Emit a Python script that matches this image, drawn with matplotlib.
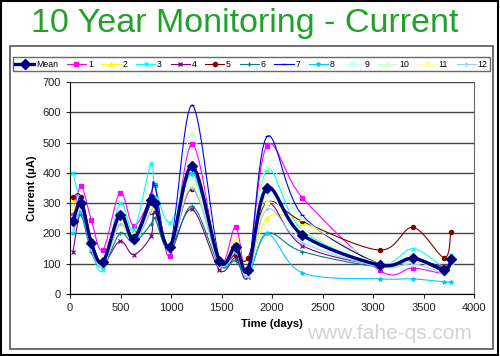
import numpy as np
import matplotlib
matplotlib.use("Agg")
import matplotlib.pyplot as plt
from matplotlib.patches import Rectangle

# tiempos de medida (días)
days = [30, 110, 210, 325, 495, 630, 800, 840, 990, 1210, 1480, 1640, 1760,
        1950, 2300, 3065, 3395, 3705, 3770]

# corriente (uA) por serie
mean = [240, 300, 170, 105, 262, 180, 310, 300, 155, 422, 110, 155, 78, 350, 195, 96, 118, 80, 115]
s1 = [260, 355, 245, 145, 335, 225, 320, 360, 125, 495, 110, 222, 80, 490, 318, 78, 86, 70, 110]
s2 = [310, 280, 160, 95, 230, 200, 290, 280, 150, 360, 100, 180, 70, 250, 235, 100, 110, 80, 120]
s3 = [400, 290, 150, 80, 300, 210, 430, 360, 235, 390, 100, 130, 60, 410, 210, 100, 150, 90, 130]
s4 = [140, 270, 160, 100, 175, 130, 190, 270, 155, 280, 80, 120, 55, 300, 160, 95, 115, 90, 110]
s5 = [320, 320, 165, 100, 240, 190, 270, 300, 150, 348, 115, 130, 118, 302, 240, 145, 220, 120, 205]
s6 = [230, 260, 140, 90, 200, 170, 230, 250, 140, 290, 95, 110, 60, 200, 140, 90, 110, 80, 100]
s7 = [240, 320, 180, 110, 270, 190, 330, 360, 160, 624, 115, 170, 70, 520, 260, 100, 120, 85, 120]
s8 = [200, 270, 150, 90, 250, 170, 280, 320, 150, 400, 100, 140, 60, 200, 70, 50, 50, 40, 40]
s9 = [250, 300, 170, 100, 260, 180, 300, 310, 160, 380, 105, 150, 70, 330, 180, 90, 100, 70, 100]
s10 = [230, 290, 160, 100, 250, 170, 290, 300, 150, 530, 110, 160, 65, 420, 250, 110, 120, 80, 110]
s11 = [280, 300, 170, 95, 240, 175, 280, 300, 150, 360, 100, 175, 65, 300, 210, 100, 110, 80, 120]
s12 = [210, 280, 150, 90, 230, 170, 270, 290, 150, 350, 100, 140, 60, 280, 170, 90, 100, 70, 100]

labels = ["Mean", "1", "2", "3", "4", "5", "6", "7", "8", "9", "10", "11", "12"]
series = [mean, s1, s2, s3, s4, s5, s6, s7, s8, s9, s10, s11, s12]
colors = ["#000080", "#ff00ff", "#ffff00", "#00ffff", "#800080", "#800000",
          "#008080", "#0000ff", "#00ccff", "#ccffff", "#ccffcc", "#ffff99", "#99ccff"]
markers = ["D", "s", "^", "x", "x", "o", "+", "_", "*", "s", "^", "o", "+"]


def smooth(x, y, n=12):
    # curva tipo "línea suavizada" de Excel (Catmull-Rom), solo para dibujar
    x = np.asarray(x, float)
    y = np.asarray(y, float)
    px = np.concatenate([[x[0]], x, [x[-1]]])
    py = np.concatenate([[y[0]], y, [y[-1]]])
    xs, ys = [], []
    t = np.linspace(0, 1, n, endpoint=False)
    for i in range(1, len(px) - 2):
        for p, out in ((px, xs), (py, ys)):
            p0, p1, p2, p3 = p[i - 1], p[i], p[i + 1], p[i + 2]
            out.extend(0.5 * ((2 * p1) + (-p0 + p2) * t
                              + (2 * p0 - 5 * p1 + 4 * p2 - p3) * t ** 2
                              + (-p0 + 3 * p1 - 3 * p2 + p3) * t ** 3))
    xs.append(x[-1])
    ys.append(y[-1])
    return xs, ys


plt.rcParams['font.family'] = ['Liberation Sans', 'DejaVu Sans']
fig = plt.figure(figsize=(5, 3.56), dpi=100)

# marcos
fig.patches.append(Rectangle((0.002, 0.002), 0.994, 0.994, transform=fig.transFigure,
                             fill=False, edgecolor="black", linewidth=1.5))
fig.patches.append(Rectangle((0.02, 0.02), 0.965, 0.85, transform=fig.transFigure,
                             fill=False, edgecolor="#555555", linewidth=1.2))

fig.text(0.49, 0.935, "10 Year Monitoring - Current", color="#22a02a",
         fontsize=24.5, ha="center", va="center")

ax = fig.add_axes([0.14, 0.174, 0.808, 0.596])
handles = []
for i, (lab, vals) in enumerate(zip(labels, series)):
    lw = 2.4 if i == 0 else 0.8
    ms = 5 if i == 0 else 3
    z = 10 if i == 0 else 3
    sx, sy = smooth(days, vals)
    ax.plot(sx, sy, color=colors[i], linewidth=lw, zorder=z)
    ax.plot(days, vals, linestyle="none", marker=markers[i], color=colors[i],
            markersize=ms, markeredgewidth=0.9, zorder=z)
    h, = ax.plot([], [], color=colors[i], linewidth=lw, marker=markers[i],
                 markersize=ms, label=lab)
    handles.append(h)

ax.set_xlim(0, 4000)
ax.set_ylim(0, 700)
ax.set_xticks(range(0, 4001, 500))
ax.set_yticks(range(0, 701, 100))
ax.grid(axis="y", color="#444444", linewidth=1)
ax.set_axisbelow(True)
ax.spines["top"].set_visible(False)
ax.spines["right"].set_color("#666666")
ax.tick_params(labelsize=8, colors="#222222", length=3, direction="out")
ax.set_xlabel("Time (days)", fontsize=8, fontweight="bold", labelpad=4)
ax.set_ylabel("Current (\u03bcA)", fontsize=8, fontweight="bold", labelpad=4)

fig.legend(handles=handles, loc="lower left", bbox_to_anchor=(0.025, 0.8, 0.955, 0.065),
           mode="expand", ncol=13, fontsize=6.3, handlelength=2.2, handletextpad=0.2,
           columnspacing=0.4, frameon=True, fancybox=False, edgecolor="#444444",
           borderpad=0.3, borderaxespad=0)

fig.text(0.615, 0.062, "www.fahe-qs.com", color="#c8c8c8", fontsize=15,
         ha="left", va="center", alpha=0.8, zorder=0)

fig.savefig("out.png", dpi=100)
